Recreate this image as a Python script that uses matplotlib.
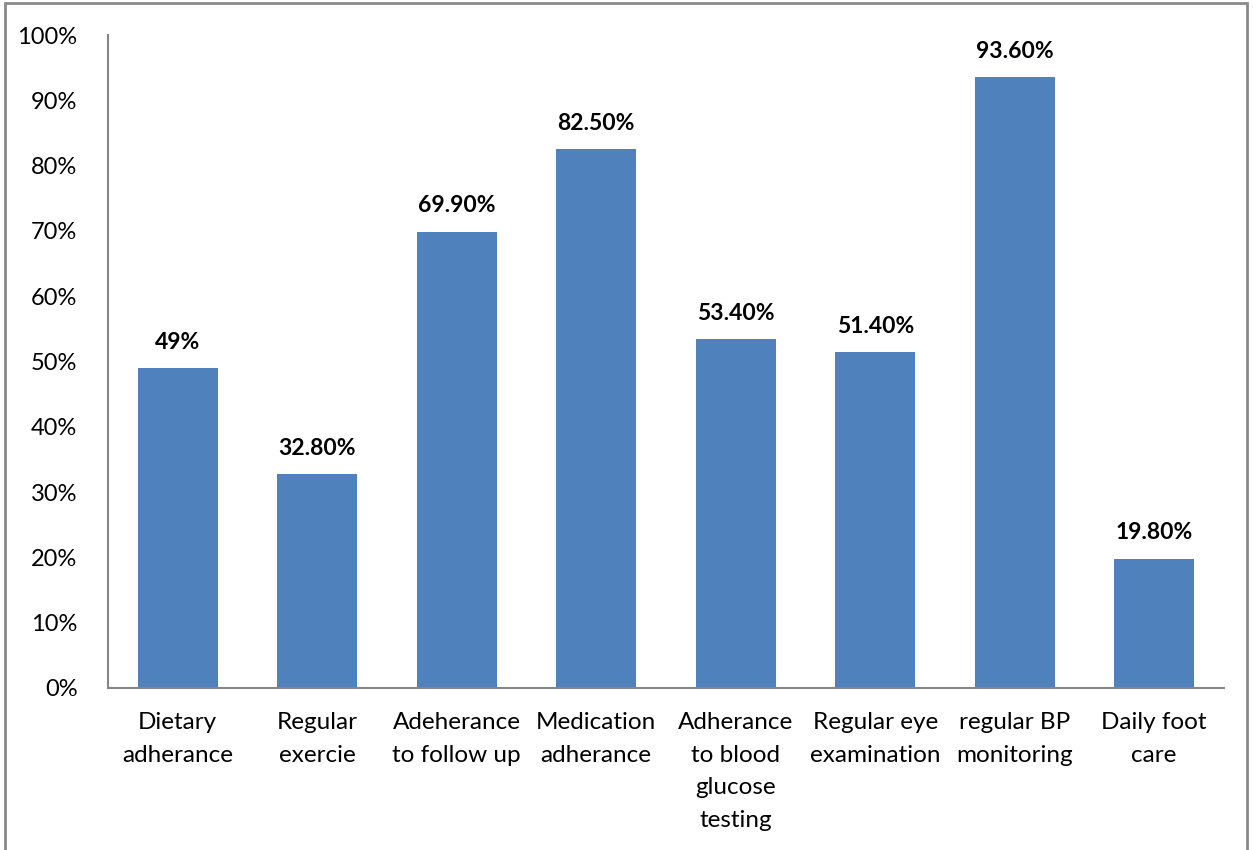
import matplotlib.pyplot as plt
from matplotlib.patches import Rectangle

categories = ['Dietary\nadherance', 'Regular\nexercie', 'Adeherance\nto follow up',
              'Medication\nadherance', 'Adherance\nto blood\nglucose\ntesting',
              'Regular eye\nexamination', 'regular BP\nmonitoring', 'Daily foot\ncare']
values = [49.0, 32.8, 69.9, 82.5, 53.4, 51.4, 93.6, 19.8]
value_labels = ['49%', '32.80%', '69.90%', '82.50%', '53.40%', '51.40%', '93.60%', '19.80%']

plt.rcParams['font.family'] = ['Lato', 'DejaVu Sans']

fig = plt.figure(figsize=(12.53, 8.5), dpi=100)
ax = fig.add_axes([0.0862, 0.1906, 0.8906, 0.7682])

x = range(len(categories))
bars = ax.bar(x, values, width=0.575, color='#4F81BD')
for b, lab in zip(bars, value_labels):
    ax.annotate(lab, (b.get_x() + b.get_width() / 2, b.get_height()),
                xytext=(0, 11), textcoords='offset points',
                ha='center', va='bottom', fontsize=16.5, fontweight='bold')

ax.set_xlim(-0.5, len(categories) - 0.5)
ax.set_ylim(0, 100)
ax.set_yticks(range(0, 101, 10))
ax.set_yticklabels([f'{v}%' for v in range(0, 101, 10)], fontsize=17)
ax.set_xticks(list(x))
ax.set_xticklabels(categories, fontsize=17.5, linespacing=1.7)
ax.tick_params(axis='both', length=0)
ax.tick_params(axis='y', pad=22)
ax.tick_params(axis='x', pad=17)
for s in ['top', 'right']:
    ax.spines[s].set_visible(False)
for s in ['left', 'bottom']:
    ax.spines[s].set_color('#868686')
    ax.spines[s].set_linewidth(1.5)

fig.patches.append(Rectangle((0.004, -0.01), 0.991, 1.006, transform=fig.transFigure,
                             fill=False, edgecolor='#8a8a8a', linewidth=2))

fig.savefig('out.png', dpi=100)
